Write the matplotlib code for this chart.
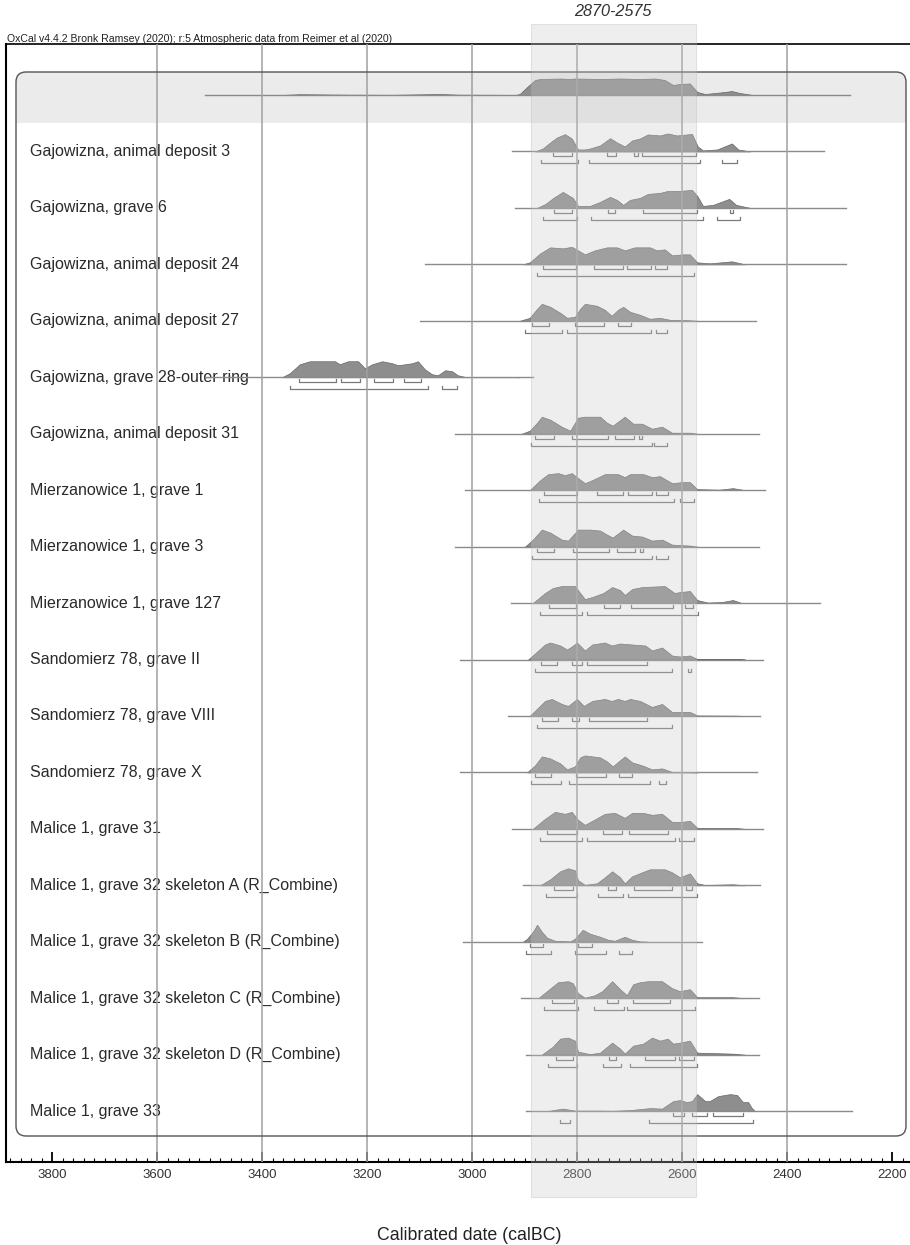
import numpy as np
import matplotlib.pyplot as plt
from matplotlib.patches import FancyBboxPatch, Rectangle

plt.rcParams['font.family'] = ['Liberation Sans', 'DejaVu Sans']

# ---- data (cal BC) ----
labels = [
    "",
    "Gajowizna, animal deposit 3",
    "Gajowizna, grave 6",
    "Gajowizna, animal deposit 24",
    "Gajowizna, animal deposit 27",
    "Gajowizna, grave 28-outer ring",
    "Gajowizna, animal deposit 31",
    "Mierzanowice 1, grave 1",
    "Mierzanowice 1, grave 3",
    "Mierzanowice 1, grave 127",
    "Sandomierz 78, grave II",
    "Sandomierz 78, grave VIII",
    "Sandomierz 78, grave X",
    "Malice 1, grave 31",
    "Malice 1, grave 32 skeleton A (R_Combine)",
    "Malice 1, grave 32 skeleton B (R_Combine)",
    "Malice 1, grave 32 skeleton C (R_Combine)",
    "Malice 1, grave 32 skeleton D (R_Combine)",
    "Malice 1, grave 33",
]

# extent of the thin line under each distribution
line_start = [3509, 2924, 2918, 3090, 3099, 3509, 3032, 3013, 3032, 2926,
              3023, 2931, 3023, 2924, 2903, 3017, 2907, 2897, 2897]
line_end = [2280, 2330, 2288, 2288, 2459, 2884, 2453, 2442, 2453, 2337,
            2446, 2451, 2457, 2446, 2451, 2562, 2453, 2453, 2276]

# posterior density outlines (year, relative density)
prof_years = [
    [3366, 3328, 3270, 3232, 3150, 3061, 3023, 2950, 2918, 2909, 2895, 2880, 2870, 2832, 2813, 2804,
     2756, 2718, 2680, 2651, 2633, 2617, 2604, 2585, 2571, 2556, 2518, 2505, 2490, 2465],
    [2880, 2865, 2851, 2838, 2823, 2810, 2798, 2785, 2775, 2756, 2737, 2724, 2709, 2695, 2680, 2665,
     2642, 2627, 2610, 2581, 2570, 2560, 2533, 2505, 2493, 2470],
    [2876, 2860, 2845, 2827, 2808, 2798, 2775, 2756, 2737, 2724, 2712, 2699, 2680, 2665, 2642, 2627,
     2604, 2581, 2571, 2560, 2541, 2510, 2497, 2470],
    [2903, 2890, 2870, 2851, 2827, 2810, 2798, 2785, 2766, 2743, 2724, 2709, 2690, 2661, 2648, 2633,
     2619, 2598, 2585, 2571, 2547, 2505, 2480],
    [2909, 2890, 2876, 2867, 2851, 2832, 2819, 2804, 2794, 2785, 2762, 2747, 2734, 2722, 2712, 2699,
     2680, 2661, 2642, 2623, 2585, 2570],
    [3362, 3347, 3328, 3309, 3261, 3252, 3236, 3217, 3204, 3190, 3171, 3152, 3141, 3114, 3103, 3090,
     3076, 3065, 3051, 3038, 3027, 3013, 2985, 2928, 2909],
    [2905, 2890, 2876, 2867, 2851, 2829, 2813, 2798, 2785, 2756, 2743, 2732, 2709, 2693, 2676, 2657,
     2638, 2619, 2585, 2571],
    [2890, 2870, 2855, 2836, 2823, 2810, 2798, 2785, 2771, 2747, 2722, 2709, 2699, 2674, 2657, 2642,
     2619, 2600, 2585, 2571, 2528, 2503, 2480],
    [2899, 2884, 2867, 2851, 2829, 2817, 2798, 2775, 2756, 2743, 2732, 2712, 2695, 2676, 2657, 2638,
     2619, 2585, 2571],
    [2884, 2861, 2846, 2829, 2804, 2794, 2785, 2771, 2750, 2733, 2718, 2709, 2695, 2676, 2633, 2614,
     2604, 2585, 2571, 2551, 2524, 2503, 2486],
    [2893, 2880, 2861, 2851, 2832, 2819, 2810, 2800, 2785, 2771, 2747, 2734, 2718, 2695, 2670, 2657,
     2638, 2619, 2604, 2585, 2571, 2528, 2499, 2480],
    [2890, 2861, 2848, 2829, 2817, 2800, 2787, 2771, 2747, 2734, 2722, 2709, 2699, 2680, 2657, 2638,
     2619, 2585, 2571, 2499, 2480],
    [2895, 2880, 2867, 2851, 2832, 2819, 2804, 2794, 2785, 2756, 2743, 2732, 2709, 2695, 2676, 2657,
     2638, 2619, 2571],
    [2884, 2861, 2842, 2823, 2810, 2798, 2785, 2771, 2747, 2728, 2709, 2695, 2674, 2657, 2638, 2619,
     2600, 2585, 2571, 2499, 2480],
    [2870, 2851, 2832, 2817, 2804, 2798, 2785, 2762, 2747, 2733, 2718, 2709, 2695, 2676, 2661, 2633,
     2619, 2604, 2585, 2571, 2556, 2503, 2480],
    [2903, 2895, 2884, 2876, 2867, 2857, 2842, 2813, 2804, 2794, 2789, 2775, 2756, 2741, 2728, 2709,
     2695, 2680, 2665],
    [2874, 2855, 2836, 2817, 2808, 2798, 2785, 2766, 2752, 2733, 2718, 2705, 2693, 2680, 2665, 2638,
     2619, 2604, 2585, 2571, 2503, 2480],
    [2867, 2846, 2832, 2817, 2804, 2798, 2775, 2756, 2747, 2733, 2718, 2709, 2693, 2674, 2657, 2642,
     2627, 2617, 2604, 2585, 2571, 2503, 2480],
    [2857, 2827, 2804, 2756, 2733, 2699, 2661, 2638, 2617, 2604, 2591, 2581, 2571, 2556, 2547, 2531,
     2508, 2495, 2484, 2474, 2467, 2461],
]
prof_dens = [
    [0, 0.8, 0.5, 0.3, 0.2, 1, 0.3, 0.2, 0, 1, 8, 15, 16, 16.5, 16, 16.5,
     16, 16.5, 16, 16.5, 15, 10, 11, 11.5, 3, 1, 3, 4, 2, 0],
    [0, 3, 9, 14, 17.3, 13, 2, 2, 3, 6, 13.3, 9, 5, 11, 13, 17,
     16, 18, 16, 17.5, 5, 1, 2, 8, 2, 0],
    [0, 4, 10, 16, 10, 2, 2, 6, 11, 8, 3, 8, 10, 14, 15, 17,
     17, 18, 12, 2, 3, 9, 3, 0],
    [0, 2, 11, 17, 16, 17.5, 14, 10, 14, 17, 17, 14, 17, 17, 14, 15,
     9, 10, 10, 2, 1, 3, 0],
    [0, 3, 12, 17, 14, 8, 3, 4, 12, 17, 15, 11, 5, 11, 14, 9,
     6, 2, 3, 1, 0.5, 0],
    [0, 4, 13, 16, 16, 13, 16, 16, 9, 13, 16, 14, 12, 14, 16, 8,
     3, 2, 7, 6, 2, 0.3, 0.3, 0.2, 0],
    [0, 3, 11, 17, 14, 7, 3, 16, 17, 17, 11, 8, 17, 10, 10, 5,
     7, 1, 1, 0],
    [0, 10, 16, 17, 15, 17, 12, 7, 10, 16, 16, 13, 16, 16, 13, 14,
     7, 8, 8, 1, 0.5, 2, 0],
    [0, 7, 17, 14, 7, 6, 17, 17, 16, 12, 9, 17, 11, 10, 6, 7,
     2, 1, 0],
    [0, 10, 15, 17, 17, 10, 4, 6, 10, 16, 13, 8, 14, 16, 17, 10,
     11, 12, 3, 0.5, 1, 3, 0],
    [0, 6, 15, 17, 14, 10, 13, 17, 9, 15, 17, 14, 16, 15, 14, 9,
     12, 4, 3, 4, 0.5, 0.3, 0.6, 0],
    [0, 15, 17, 12, 10, 17, 10, 15, 17, 15, 17, 15, 17, 15, 9, 12,
     4, 4, 0.5, 0.3, 0],
    [0, 7, 16, 14, 9, 3, 6, 15, 17, 15, 11, 6, 16, 10, 7, 3,
     4, 0.5, 0],
    [0, 10, 17, 15, 17, 9, 4, 8, 15, 16, 11, 16, 16, 14, 15, 7,
     7, 8, 1, 1, 0],
    [0, 6, 14, 17, 15, 5, 0.5, 2, 8, 14, 8, 2, 9, 13, 16, 16,
     13, 8, 12, 2, 0.3, 1, 0],
    [0, 3, 10, 17, 10, 4, 1, 0.3, 3, 9, 12, 8, 5, 2, 1, 5,
     2, 0.3, 0],
    [0, 8, 16, 17, 15, 5, 0.5, 3, 7, 17, 9, 3, 14, 16, 17, 17,
     10, 7, 9, 1, 1, 0],
    [0, 8, 16, 17, 14, 3, 0.5, 2, 6, 12, 6, 1, 9, 11, 17, 14,
     16, 11, 12, 14, 2, 1, 0],
    [0, 2.5, 0.5, 0.5, 0.3, 1, 3, 2.5, 10, 11, 9, 10, 17, 10, 10, 15,
     17, 16, 9, 9, 3, 0],
]

# highest posterior density ranges
ranges_68 = [
    [],
    [(2846, 2810), (2743, 2726), (2691, 2684), (2676, 2573)],
    [(2844, 2810), (2741, 2728), (2674, 2571), (2509, 2503)],
    [(2865, 2802), (2768, 2712), (2705, 2659), (2651, 2629)],
    [(2886, 2853), (2804, 2749), (2722, 2697)],
    [(3330, 3259), (3250, 3213), (3187, 3150), (3130, 3097)],
    [(2880, 2844), (2810, 2741), (2728, 2691), (2682, 2676)],
    [(2863, 2800), (2762, 2712), (2703, 2657), (2650, 2627)],
    [(2876, 2844), (2808, 2739), (2724, 2690), (2680, 2674)],
    [(2853, 2802), (2749, 2718), (2697, 2617), (2594, 2579)],
    [(2869, 2838), (2810, 2790), (2781, 2667)],
    [(2867, 2836), (2810, 2796), (2777, 2667)],
    [(2880, 2850), (2802, 2745), (2720, 2695)],
    [(2857, 2800), (2751, 2714), (2701, 2627)],
    [(2844, 2808), (2741, 2726), (2691, 2619), (2592, 2581)],
    [(2890, 2865), (2798, 2771)],
    [(2848, 2806), (2743, 2722), (2693, 2623)],
    [(2840, 2808), (2739, 2726), (2670, 2613), (2606, 2577)],
    [(2617, 2596), (2581, 2552), (2541, 2484)],
]
ranges_95 = [
    [],
    [(2869, 2798), (2777, 2566), (2524, 2495)],
    [(2865, 2800), (2773, 2560), (2533, 2490)],
    [(2876, 2577)],
    [(2899, 2829), (2819, 2659), (2650, 2629)],
    [(3347, 3084), (3057, 3029)],
    [(2888, 2657), (2653, 2629)],
    [(2872, 2615), (2604, 2577)],
    [(2886, 2657), (2650, 2627)],
    [(2870, 2790), (2781, 2570)],
    [(2880, 2619), (2589, 2583)],
    [(2876, 2619)],
    [(2888, 2830), (2815, 2661), (2644, 2630)],
    [(2870, 2790), (2781, 2613), (2606, 2577)],
    [(2859, 2800), (2760, 2712), (2703, 2571)],
    [(2897, 2850), (2804, 2745), (2720, 2695)],
    [(2863, 2798), (2768, 2710), (2705, 2575)],
    [(2855, 2800), (2751, 2716), (2699, 2571)],
    [(2832, 2813), (2663, 2465)],
]

span_label = "2870-2575"
span_from, span_to = 2888, 2574

# ---- layout (pixel based) ----
W, H = 910, 1245
YR_PER_PX = 1600 / 840


def px2yr(px):
    return 3800 + (52 - px) * YR_PER_PX


ROW0 = 95
ROW_STEP = 56.45
OFF68, OFF95, TICK = 5, 12, 3

fig = plt.figure(figsize=(W / 100, H / 100), dpi=100)
ax = fig.add_axes([6 / W, 1 - 1162 / H, 904 / W, (1162 - 44) / H])
ax.set_xlim(px2yr(6), px2yr(910))
ax.set_ylim(1162, 44)

# rounded group box with grey header strip
bx0, bx1 = px2yr(906), px2yr(16)
rs = 10 * YR_PER_PX
asp = 1 / YR_PER_PX
ax.add_patch(FancyBboxPatch((bx0, 72), bx1 - bx0, 80, boxstyle=f"round,pad=0,rounding_size={rs}",
                            mutation_aspect=asp, facecolor='#ebebeb', edgecolor='none', zorder=0.5))
ax.add_patch(Rectangle((bx0, 123), bx1 - bx0, 40, facecolor='white', edgecolor='none', zorder=0.6))
ax.add_patch(FancyBboxPatch((bx0, 72), bx1 - bx0, 1136 - 72, boxstyle=f"round,pad=0,rounding_size={rs}",
                            mutation_aspect=asp, facecolor='none', edgecolor='#555555', lw=1.0, zorder=3.5))

for i in range(len(labels)):
    base = ROW0 + i * ROW_STEP
    ax.text(px2yr(30), base, labels[i], ha='left', va='center', fontsize=11.5, color='#2a2a2a', zorder=1.8)
    ax.plot([line_start[i], line_end[i]], [base, base], color='#8a8a8a', lw=1.0, zorder=2.2)
    yrs = np.array(prof_years[i])
    dens = np.array(prof_dens[i])
    ax.fill_between(yrs, base, base - dens, facecolor='#8e8e8e', edgecolor='#666666', lw=0.5, zorder=2)
    for off, rng in ((OFF68, ranges_68[i]), (OFF95, ranges_95[i])):
        y = base + off
        for a, b in rng:
            ax.plot([a, a, b, b], [y - TICK, y, y, y - TICK], color='#7a7a7a', lw=0.9, zorder=2.2)

for yr in range(3600, 2399, -200):
    ax.axvline(yr, color='#a0a0a0', lw=1.1, zorder=2.6)

# highlighted span
ax.add_patch(Rectangle((span_to, 24), span_from - span_to, 1197 - 24, facecolor='#c8c8c8', alpha=0.3,
                       edgecolor='#b0b0b0', lw=0.8, zorder=4, clip_on=False))
ax.text((span_from + span_to) / 2, 12, span_label, style='italic', ha='center', va='center',
        fontsize=11.7, color='#333333', clip_on=False)

ax.text(px2yr(7), 42, "OxCal v4.4.2 Bronk Ramsey (2020); r:5 Atmospheric data from Reimer et al (2020)",
        ha='left', va='baseline', fontsize=7.6, color='#222222', clip_on=False)

# axis
ax.set_xticks(np.arange(3800, 2199, -200))
ax.set_xticks(np.arange(3880, 2160, -20), minor=True)
ax.tick_params(axis='x', which='major', direction='in', length=7, width=1.3, labelsize=9.5,
               pad=5, labelcolor='#333333')
ax.tick_params(axis='x', which='minor', direction='in', length=3.2, width=0.8)
ax.set_yticks([])
ax.spines['right'].set_visible(False)
ax.spines['top'].set_linewidth(1.2)
ax.spines['left'].set_linewidth(1.5)
ax.spines['bottom'].set_linewidth(1.5)

fig.text(469 / W, 1 - 1236 / H, "Calibrated date (calBC)", ha='center', va='center', fontsize=12.8,
         color='#222222')

fig.savefig("out.png", dpi=100)
